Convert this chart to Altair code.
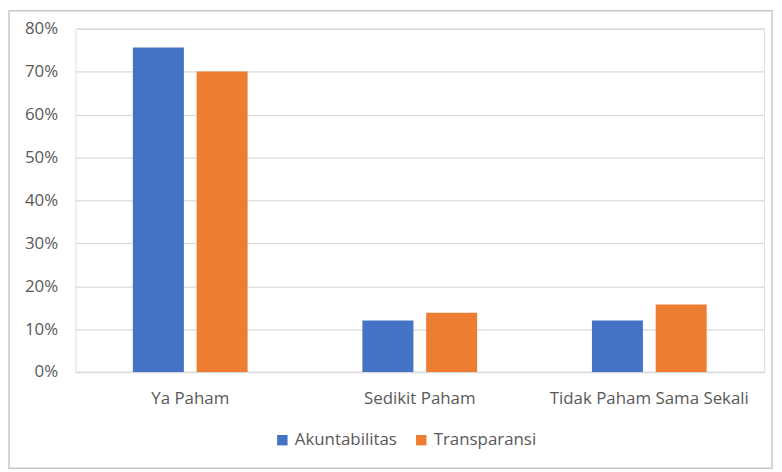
import altair as alt
import pandas as pd

categories = ["Ya Paham", "Sedikit Paham", "Tidak Paham Sama Sekali"]
series = ["Akuntabilitas", "Transparansi"]
akuntabilitas = [0.756, 0.12, 0.12]
transparansi = [0.70, 0.138, 0.157]
colors = ["#4472C4", "#ED7D31"]

rows = []
for c, a, t in zip(categories, akuntabilitas, transparansi):
    rows.append({"kategori": c, "seri": series[0], "nilai": a})
    rows.append({"kategori": c, "seri": series[1], "nilai": t})
df = pd.DataFrame(rows)

FONT = "Open Sans"
FS = 17
W, H = 694, 346

bars = alt.Chart(df).mark_bar().encode(
    x=alt.X("kategori:N", sort=categories, title=None,
            scale=alt.Scale(paddingInner=0.5, paddingOuter=0.25),
            axis=alt.Axis(labelAngle=0, labelPadding=19, ticks=False, domain=True,
                          domainColor="#d9d9d9", domainWidth=1.5, labelLimit=400,
                          labelFont=FONT, labelFontSize=FS, labelColor="#595959")),
    xOffset=alt.XOffset("seri:N", sort=series,
                        scale=alt.Scale(paddingInner=0.2, paddingOuter=0)),
    y=alt.Y("nilai:Q", title=None,
            scale=alt.Scale(domain=[0, 0.8], nice=False),
            axis=alt.Axis(format=".0%", values=[0, 0.1, 0.2, 0.3, 0.4, 0.5, 0.6, 0.7, 0.8],
                          domain=False, ticks=False, labelPadding=18,
                          gridColor="#d9d9d9", gridWidth=1.2,
                          labelFont=FONT, labelFontSize=FS, labelColor="#595959")),
    color=alt.Color("seri:N", sort=series, title=None,
                    scale=alt.Scale(domain=series, range=colors),
                    legend=alt.Legend(orient="none", legendX=200, legendY=406,
                                      direction="horizontal", symbolType="square",
                                      symbolSize=110, symbolStrokeWidth=0,
                                      labelFont=FONT, labelFontSize=FS, labelColor="#595959",
                                      columnPadding=16, labelOffset=4, labelLimit=300)),
)

frame = alt.Chart(pd.DataFrame({"d": [0]})).mark_rect(
    fill=None, stroke="#c8c8c8", strokeWidth=1.5
).encode(
    x=alt.value(-67), x2=alt.value(702), y=alt.value(-18), y2=alt.value(443)
)

chart = alt.layer(frame, bars).properties(
    width=W, height=H,
    autosize=alt.AutoSizeParams(type="none"),
    padding={"left": 68, "top": 19, "right": 10, "bottom": 100},
).configure_view(stroke=None).configure(background="white")

chart.save("out.html", embed_options={"renderer": "svg", "actions": False})
